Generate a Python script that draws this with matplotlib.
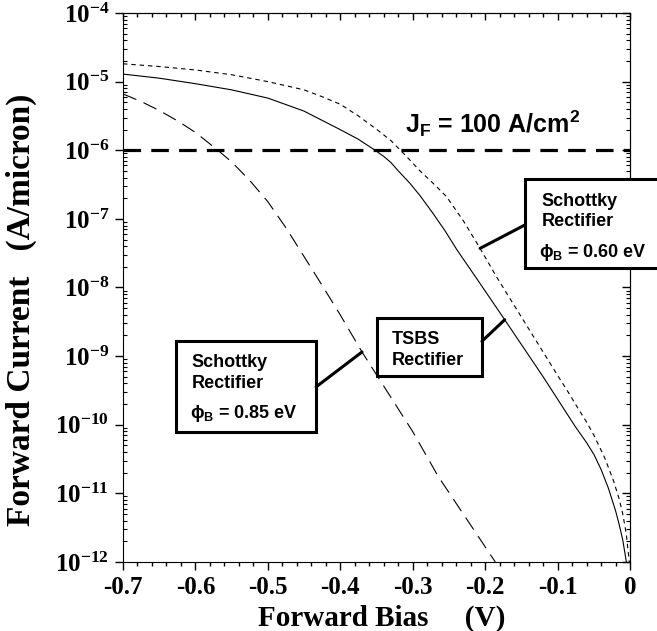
import numpy as np
import matplotlib
matplotlib.use("Agg")
import matplotlib.pyplot as plt
from matplotlib.ticker import MultipleLocator, LogLocator, FuncFormatter, NullFormatter
from matplotlib.patches import Rectangle

# forward bias (V) and log10 of forward current (A/micron)
v_tsbs = [-0.7, -0.65, -0.6, -0.55, -0.5, -0.45, -0.4, -0.375, -0.365, -0.352, -0.34, -0.33,
          -0.32, -0.304, -0.29, -0.272, -0.255, -0.239, -0.211, -0.173, -0.12, -0.076,
          -0.06, -0.05, -0.04, -0.03, -0.02, -0.015, -0.01, -0.005]
lj_tsbs = [-4.89, -4.95, -5.03, -5.12, -5.24, -5.43, -5.70, -5.84, -5.91, -6.0, -6.09, -6.18,
           -6.3, -6.48, -6.66, -6.92, -7.18, -7.45, -7.88, -8.47, -9.3, -10.02,
           -10.26, -10.43, -10.65, -10.92, -11.25, -11.45, -11.68, -12.0]

v_s060 = [-0.7, -0.65, -0.6, -0.55, -0.5, -0.45, -0.425, -0.4, -0.375, -0.348, -0.33, -0.317,
          -0.305, -0.29, -0.27, -0.253, -0.23, -0.207, -0.184, -0.13, -0.1, -0.085, -0.073,
          -0.06, -0.05, -0.035, -0.023, -0.015, -0.01, -0.005, -0.001]
lj_s060 = [-4.74, -4.78, -4.83, -4.9, -5.0, -5.12, -5.22, -5.33, -5.5, -5.71, -5.86, -6.0,
           -6.13, -6.3, -6.5, -6.68, -7.03, -7.43, -7.85, -8.77, -9.28, -9.53, -9.74,
           -9.96, -10.15, -10.48, -10.81, -11.08, -11.3, -11.6, -12.0]

v_s085 = [-0.7, -0.675, -0.65, -0.625, -0.6, -0.569, -0.55, -0.525, -0.5, -0.475, -0.45,
          -0.425, -0.4, -0.37, -0.3, -0.265, -0.186]
lj_s085 = [-5.18, -5.29, -5.42, -5.57, -5.74, -6.0, -6.17, -6.44, -6.75, -7.13, -7.55,
           -7.97, -8.4, -8.94, -10.1, -10.75, -12.0]

j_f = 1e-6   # J_F = 100 A/cm2
x_range = [-0.7, 0.0]

# points on the curves where the callout lines touch
v_call_060 = -0.207
v_call_tsbs = -0.173
v_call_085 = -0.37

plt.rcParams["mathtext.fontset"] = "custom"
plt.rcParams["mathtext.rm"] = "Liberation Serif:bold"
plt.rcParams["mathtext.sf"] = "Liberation Sans:bold"

serif = {"family": "Liberation Serif", "weight": "bold"}
sans = ["Liberation Sans", "DejaVu Sans"]

fig = plt.figure(figsize=(6.57, 6.31), dpi=100)
ax = fig.add_axes([0.1872, 0.1094, 0.7717, 0.8700])

ax.plot(v_tsbs, 10 ** np.array(lj_tsbs), color="k", lw=0.8)
ax.plot(v_s060, 10 ** np.array(lj_s060), color="k", lw=0.8, dashes=(4, 3.5))
ax.plot(v_s085, 10 ** np.array(lj_s085), color="k", lw=0.8, dashes=(13, 7))
ax.plot(x_range, [j_f, j_f], color="k", lw=2.3, dashes=(5.5, 3.2))

ax.set_yscale("log")
ax.set_xlim(-0.7, 0.0)
ax.set_ylim(1e-12, 1e-4)

# ticks: bottom outward, top/right inward, left majors outward / minors inward
ax.xaxis.set_major_locator(MultipleLocator(0.1))
ax.xaxis.set_minor_locator(MultipleLocator(0.02))
ax.xaxis.set_major_formatter(FuncFormatter(lambda v, p: "0" if abs(v) < 1e-9 else f"{v:.1f}"))
ax.yaxis.set_major_locator(LogLocator(base=10, numticks=20))
ax.yaxis.set_minor_locator(LogLocator(base=10, subs=np.arange(2, 10), numticks=20))
ax.yaxis.set_minor_formatter(NullFormatter())
ax.yaxis.set_major_formatter(FuncFormatter(lambda v, p: r"$\mathrm{10^{%d}}$" % round(np.log10(v))))
ax.tick_params(axis="x", which="major", direction="out", length=6, width=1, pad=4)
ax.tick_params(axis="x", which="minor", direction="out", length=3, width=1)
ax.tick_params(axis="y", which="major", direction="out", length=6, width=1, pad=4)
ax.tick_params(axis="y", which="minor", direction="in", length=3, width=0.8)
for lab in ax.get_xticklabels():
    lab.set_fontproperties(serif)
    lab.set_fontsize(18)
for lab in ax.get_yticklabels():
    lab.set_fontsize(18)

top = ax.secondary_xaxis("top")
top.xaxis.set_major_locator(MultipleLocator(0.1))
top.xaxis.set_minor_locator(MultipleLocator(0.02))
top.tick_params(which="major", direction="in", length=5, width=1, labeltop=False)
top.tick_params(which="minor", direction="in", length=3, width=1)
right = ax.secondary_yaxis("right")
right.yaxis.set_major_locator(LogLocator(base=10, numticks=20))
right.yaxis.set_minor_locator(LogLocator(base=10, subs=np.arange(2, 10), numticks=20))
right.tick_params(which="major", direction="in", length=6, width=1, labelright=False)
right.tick_params(which="minor", direction="in", length=3, width=0.8)
right.yaxis.set_minor_formatter(NullFormatter())

ax.set_xlabel("Forward Bias     (V)", fontdict=serif, fontsize=21)
ax.set_ylabel("Forward Current   (A/micron)", fontdict=serif, fontsize=24)
ax.xaxis.set_label_coords(0.511, -0.078)
ax.yaxis.set_label_coords(-0.17, 0.459)

ax.text(0.556, 0.781, "J$_\\mathsf{F}$ = 100 A/cm$^\\mathsf{2}$", transform=ax.transAxes,
        family=sans, weight="bold", fontsize=18, va="baseline")

# callout boxes (axes fraction)
boxes = [
    ((0.793, 0.536), 0.27, 0.162, [(0.826, 0.648, "Schottky"), (0.826, 0.612, "Rectifier"),
                                   (0.820, 0.556, "ϕ$_\\mathsf{B}$ = 0.60 eV")], (0.793, 0.614), (v_call_060, v_s060, lj_s060)),
    ((0.501, 0.339), 0.207, 0.105, [(0.531, 0.397, "TSBS"), (0.531, 0.359, "Rectifier")],
     (0.708, 0.402), (v_call_tsbs, v_tsbs, lj_tsbs)),
    ((0.1045, 0.237), 0.2765, 0.1656, [(0.136, 0.355, "Schottky"), (0.136, 0.317, "Rectifier"),
                                       (0.132, 0.262, "ϕ$_\\mathsf{B}$ = 0.85 eV")], (0.381, 0.319), (v_call_085, v_s085, lj_s085)),
]
for (x0, y0), w, h, lines, start, (vc, vs, ls) in boxes:
    ax.add_patch(Rectangle((x0, y0), w, h, transform=ax.transAxes, fill=True, fc="white",
                           ec="k", lw=2.2, clip_on=False, zorder=5))
    for tx, ty, s in lines:
        ax.text(tx, ty, s, transform=ax.transAxes, family=sans, weight="bold",
                fontsize=13, va="baseline", zorder=6)
    yc = 10 ** np.interp(vc, vs, ls)
    ax.annotate("", xy=(vc, yc), xycoords="data", xytext=start, textcoords="axes fraction",
                arrowprops=dict(arrowstyle="-", lw=2.2, color="k", shrinkA=0, shrinkB=0), zorder=6)

fig.savefig("out.png", dpi=100)
